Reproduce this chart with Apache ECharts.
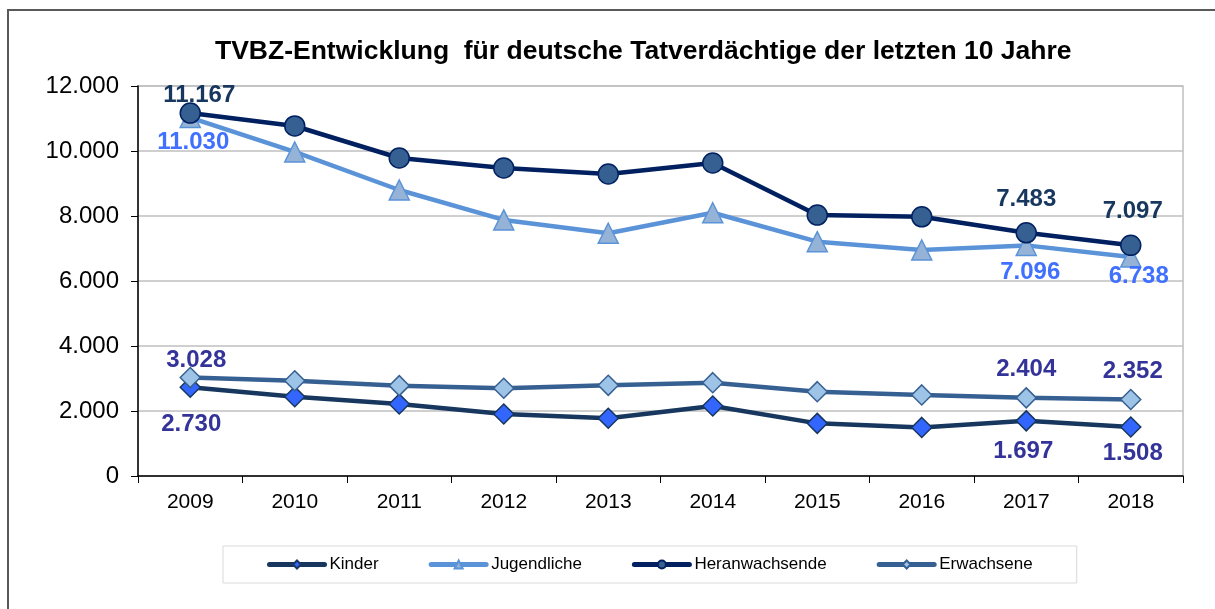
<!DOCTYPE html>
<html>
<head>
<meta charset="utf-8">
<script src="https://cdn.jsdelivr.net/npm/echarts@6/dist/echarts.min.js"></script>
<style>
  html, body { margin: 0; padding: 0; background: #fff; }
  #chart { width: 1215px; height: 609px; }
</style>
</head>
<body>
<div id="chart"></div>
<script>
// Jahre und Werte (TVBZ, deutsche Tatverdächtige)
const years = ['2009', '2010', '2011', '2012', '2013', '2014', '2015', '2016', '2017', '2018']
const kinder = [2730, 2440, 2215, 1908, 1775, 2155, 1620, 1495, 1697, 1508]
const jugendliche = [11030, 9970, 8800, 7880, 7470, 8100, 7210, 6955, 7096, 6738]
const heranwachsende = [11167, 10770, 9785, 9477, 9292, 9631, 8030, 7975, 7483, 7097]
const erwachsene = [3028, 2932, 2780, 2700, 2790, 2872, 2595, 2495, 2404, 2352]
const yTicks = [0, 2000, 4000, 6000, 8000, 10000, 12000]

// welche Punkte beschriftet sind
const labelled = [0, 8, 9]

const FONT = "'Liberation Sans', Arial, sans-serif"
const fmt = v => v === 0 ? '0' : Math.round(v).toLocaleString('de-DE')

// Beschriftungsversatz je Punkt [dx, dy]
function withLabels(values, offsets, color) {
  return values.map((v, i) => {
    const k = labelled.indexOf(i)
    if (k < 0) return v
    return {
      value: v,
      label: {
        show: true,
        position: 'inside',
        offset: offsets[k],
        color: color,
        fontFamily: FONT,
        fontSize: 24,
        fontWeight: 'bold',
        formatter: p => fmt(p.value)
      }
    }
  })
}

const chart = echarts.init(document.getElementById('chart'))

const option = {
  animation: false,
  backgroundColor: '#ffffff',
  title: {
    text: 'TVBZ-Entwicklung  für deutsche Tatverdächtige der letzten 10 Jahre',
    left: 210,
    top: 33,
    textStyle: { fontFamily: FONT, fontSize: 26.5, fontWeight: 'bold', color: '#000' }
  },
  graphic: [
    {
      type: 'rect',
      shape: { x: 8, y: 10, width: 1240, height: 620 },
      style: { fill: 'none', stroke: '#595959', lineWidth: 2 },
      silent: true
    }
  ],
  grid: { left: 138, right: 32, top: 86, bottom: 133, show: true, borderColor: '#bfbfbf', borderWidth: 1.5 },
  legend: {
    left: 223,
    top: 546,
    padding: [10, 44, 10, 44],
    itemGap: 50,
    itemWidth: 55,
    itemHeight: 10,
    borderColor: '#d9d9d9',
    borderWidth: 1,
    lineStyle: { width: 5, cap: 'round' },
    textStyle: { fontFamily: FONT, fontSize: 17, color: '#000' },
    data: ['Kinder', 'Jugendliche', 'Heranwachsende', 'Erwachsene']
  },
  xAxis: {
    type: 'category',
    data: years,
    boundaryGap: true,
    axisLine: { lineStyle: { color: '#000', width: 1.5 } },
    axisTick: { show: true, length: 7, lineStyle: { color: '#000' } },
    axisLabel: { fontFamily: FONT, fontSize: 21, color: '#000', margin: 16 },
    splitLine: { show: false }
  },
  yAxis: {
    type: 'value',
    min: yTicks[0],
    max: yTicks[yTicks.length - 1],
    interval: 2000,
    axisLine: { show: true, lineStyle: { color: '#000', width: 1.5 } },
    axisTick: { show: true, length: 7, lineStyle: { color: '#000' } },
    axisLabel: { fontFamily: FONT, fontSize: 24, color: '#000', margin: 19, formatter: fmt },
    splitLine: { show: true, lineStyle: { color: '#bfbfbf', width: 1.5 } }
  },
  series: [
    {
      name: 'Kinder',
      type: 'line',
      data: withLabels(kinder, [[1, 37], [-3, 31], [2, 26]], '#333399'),
      symbol: 'diamond',
      symbolSize: 20,
      lineStyle: { color: '#17375e', width: 4.5 },
      itemStyle: { color: '#3366ff', borderColor: '#17375e', borderWidth: 1.5 }
    },
    {
      name: 'Jugendliche',
      type: 'line',
      data: withLabels(jugendliche, [[3, 25], [4, 27], [8, 19]], '#4070ff'),
      symbol: 'triangle',
      symbolSize: 20,
      lineStyle: { color: '#5b93d8', width: 4.5 },
      itemStyle: { color: '#95b3d7', borderColor: '#5b93d8', borderWidth: 1.5 }
    },
    {
      name: 'Heranwachsende',
      type: 'line',
      data: withLabels(heranwachsende, [[9, -18], [0, -33], [2, -34]], '#17375e'),
      symbol: 'circle',
      symbolSize: 20,
      lineStyle: { color: '#002060', width: 4.5 },
      itemStyle: { color: '#366092', borderColor: '#002060', borderWidth: 1.5 }
    },
    {
      name: 'Erwachsene',
      type: 'line',
      data: withLabels(erwachsene, [[6, -17], [0, -28], [2, -28]], '#333399'),
      symbol: 'diamond',
      symbolSize: 20,
      lineStyle: { color: '#376092', width: 4.5 },
      itemStyle: { color: '#9dc3e6', borderColor: '#376092', borderWidth: 1.5 }
    }
  ]
}

chart.setOption(option)
</script>
</body>
</html>
